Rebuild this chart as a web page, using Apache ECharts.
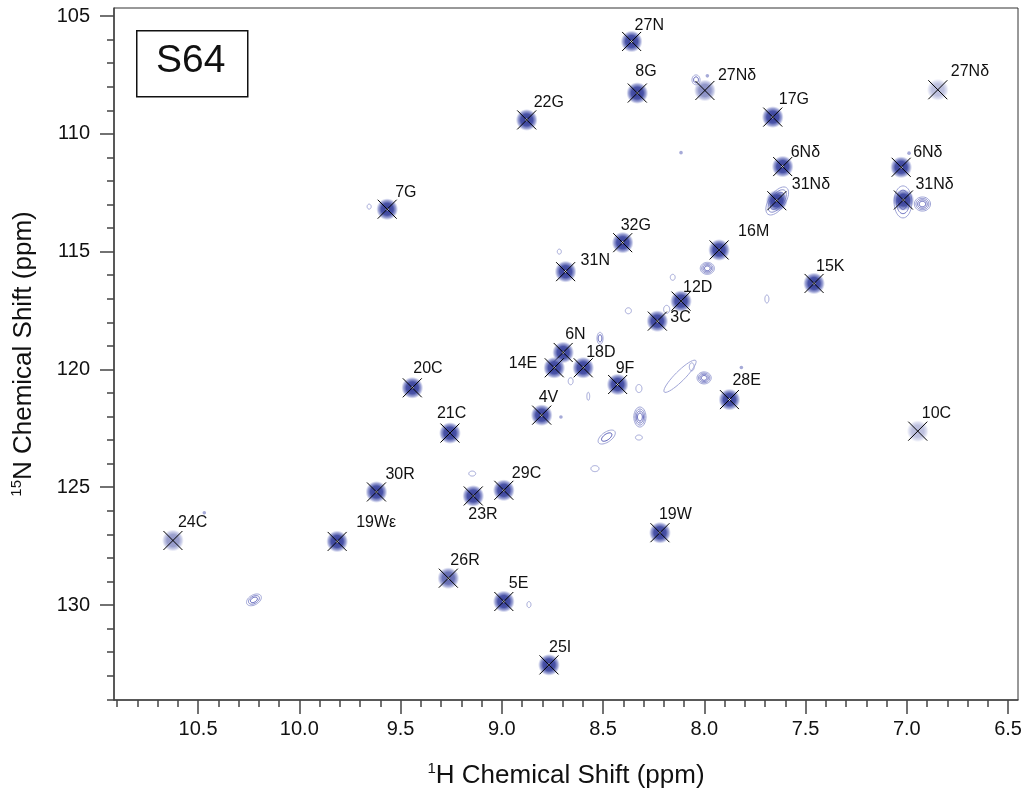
<!DOCTYPE html>
<html>
<head>
<meta charset="utf-8">
<title>S64 HSQC</title>
<script src="https://cdn.jsdelivr.net/npm/echarts@6/dist/echarts.min.js"></script>
<style>
  html, body { margin: 0; padding: 0; background: #fff; }
  #chart { width: 1027px; height: 795px; }
</style>
</head>
<body>
<div id="chart"></div>
<script>
// assigned peaks (1H ppm, 15N ppm)
var peakNames = ['27N','8G','27Nδ','22G','17G','27Nδ','6Nδ','6Nδ','31Nδ','31Nδ','32G','31N','16M','15K','12D','3C','6N','14E','18D','9F','28E','4V','10C','29C','19W','5E','25I','7G','20C','21C','30R','23R','24C','19Wε','26R'];
var peakH = [8.359,8.331,7.997,8.877,7.662,6.847,7.613,7.028,7.642,7.017,8.403,8.685,7.927,7.458,8.115,8.232,8.697,8.741,8.598,8.428,7.876,8.803,6.946,8.990,8.219,8.990,8.767,9.566,9.442,9.256,9.619,9.141,10.624,9.813,9.264];
var peakN = [106.08,108.27,108.16,109.41,109.29,108.13,111.39,111.42,112.84,112.81,114.62,115.85,114.93,116.35,117.10,117.95,119.28,119.93,119.93,120.64,121.28,121.94,122.62,125.13,126.93,129.85,132.54,113.20,120.78,122.70,125.20,125.37,127.26,127.30,128.86];
var peakLevel = [1,1,0.6,1,1,0.35,1,1,1,1,1,1,1,1,1,1,1,1,1,1,1,1,0.35,1,1,1,1,1,1,1,1,1,0.55,1,0.8];

// unassigned contour features (centre, half widths in ppm, tilt, ring count)
var contourH = [8.515,8.660,8.573,8.323,8.120,8.062,8.318,8.323,8.482,8.540,8.001,7.817,8.375,8.186,8.708,8.156,7.691,8.716,8.115,7.985,8.041,7.985,7.640,6.923,7.019,6.989,10.469,9.655,10.224,9.146,8.866];
var contourN = [118.68,120.50,121.14,120.81,120.29,119.89,122.02,122.89,122.87,124.21,120.36,119.92,117.51,117.45,122.02,116.09,117.01,115.00,110.80,115.71,107.71,107.54,112.85,112.98,112.89,110.82,126.08,113.09,129.78,124.42,129.98];
var contourRx = [0.015,0.012,0.007,0.015,0.110,0.012,0.030,0.017,0.049,0.020,0.035,0.007,0.015,0.015,0.007,0.012,0.010,0.010,0.007,0.035,0.020,0.007,0.080,0.040,0.044,0.007,0.007,0.010,0.040,0.017,0.010];
var contourRy = [0.255,0.150,0.170,0.170,0.210,0.170,0.425,0.106,0.210,0.127,0.255,0.064,0.127,0.170,0.064,0.127,0.170,0.106,0.064,0.255,0.210,0.064,0.340,0.300,0.680,0.064,0.064,0.106,0.210,0.106,0.127];
var contourTilt = [0,0,0,0,-45,0,0,0,-35,0,0,0,0,0,0,0,0,0,0,0,0,0,-55,0,0,0,0,0,-30,0,0];
var contourRings = [2,1,1,1,1,1,4,1,2,1,4,1,1,1,1,1,1,1,1,4,2,1,4,4,3,1,1,1,3,1,1];

// axis ticks
var majorH = [10.5,10.0,9.5,9.0,8.5,8.0,7.5,7.0,6.5];
var minorH = [10.9,10.8,10.7,10.6,10.5,10.4,10.3,10.2,10.1,10.0,9.9,9.8,9.7,9.6,9.5,9.4,9.3,9.2,9.1,9.0,8.9,8.8,8.7,8.6,8.5,8.4,8.3,8.2,8.1,8.0,7.9,7.8,7.7,7.6,7.5,7.4,7.3,7.2,7.1,7.0,6.9,6.8,6.7,6.6,6.5];
var majorN = [105,110,115,120,125,130];
var minorN = [105,106,107,108,109,110,111,112,113,114,115,116,117,118,119,120,121,122,123,124,125,126,127,128,129,130,131,132,133,134];

// label placement relative to the cross (px)
var labelOffset = [[3,-16],[-2,-21],[13,-15],[7,-17],[6,-17],[13,-18],[8,-14],[12,-15],[15,-16],[12,-15],[-2,-17],[15,-11],[19,-18],[2,-17],[2,-14],[13,-4],[2,-18],[-17,-4],[3,-15],[-2,-16],[3,-19],[-3,-18],[4,-18],[8,-17],[-1,-18],[5,-18],[0,-17],[8,-17],[1,-19],[-13,-19],[9,-17],[-5,19],[5,-18],[19,-19],[2,-18]];
var labelAlign = peakNames.map(function (n, i) { return i === 17 ? 'right' : 'left'; });

var FONT = '"Liberation Sans", Arial, Helvetica, sans-serif';

var peakData = peakNames.map(function (n, i) { return [peakH[i], peakN[i], peakLevel[i], i]; });
var contourData = contourH.map(function (h, i) {
  return [h, contourN[i], contourRx[i], contourRy[i], contourTilt[i], contourRings[i]];
});

function ellipsePoints(cx, cy, rx, ry, tilt) {
  var a = tilt * Math.PI / 180, pts = [];
  for (var k = 0; k < 40; k++) {
    var t = k / 40 * Math.PI * 2;
    var px = rx * Math.cos(t), py = ry * Math.sin(t);
    pts.push([cx + px * Math.cos(a) - py * Math.sin(a), cy + px * Math.sin(a) + py * Math.cos(a)]);
  }
  return pts;
}

function renderContour(params, api) {
  var c = api.coord([api.value(0), api.value(1)]);
  var s = api.size([api.value(2), api.value(3)]);
  var rx = Math.max(s[0], 1.2), ry = Math.max(s[1], 1.2);
  var tilt = api.value(4), rings = api.value(5);
  var children = [];
  if (rx < 2 && ry < 2) {
    children.push({ type: 'circle', shape: { cx: c[0], cy: c[1], r: 1.8 }, style: { fill: '#a6aad8' } });
  } else {
    for (var k = 0; k < rings; k++) {
      var f = 1 - k * 0.8 / rings;
      var shade = rings > 1 ? (k / (rings - 1)) : 0;
      var col = 'rgb(' + Math.round(160 - 80 * shade) + ',' + Math.round(165 - 80 * shade) + ',' + Math.round(215 - 35 * shade) + ')';
      children.push({
        type: 'polygon',
        shape: { points: ellipsePoints(c[0], c[1], rx * f, ry * f, tilt) },
        style: { fill: 'none', stroke: col, lineWidth: 1 }
      });
    }
  }
  return { type: 'group', children: children };
}

function renderPeak(params, api) {
  var c = api.coord([api.value(0), api.value(1)]);
  var lv = api.value(2), i = api.value(3);
  var r = 11;
  var grad = new echarts.graphic.RadialGradient(0.5, 0.5, 0.5, [
    { offset: 0, color: 'rgba(52,60,150,' + lv + ')' },
    { offset: 0.55, color: 'rgba(64,74,162,' + (lv * 0.95) + ')' },
    { offset: 0.8, color: 'rgba(100,110,188,' + (lv * 0.6) + ')' },
    { offset: 1, color: 'rgba(150,158,215,0)' }
  ]);
  var h = 9.5;
  var off = labelOffset[i];
  var children = [
    { type: 'circle', shape: { cx: c[0], cy: c[1], r: r }, style: { fill: grad } },
    { type: 'line', shape: { x1: c[0] - h, y1: c[1] - h, x2: c[0] + h, y2: c[1] + h }, style: { stroke: '#000', lineWidth: 1 } },
    { type: 'line', shape: { x1: c[0] - h, y1: c[1] + h, x2: c[0] + h, y2: c[1] - h }, style: { stroke: '#000', lineWidth: 1 } },
    {
      type: 'text',
      style: {
        text: peakNames[i], x: c[0] + off[0], y: c[1] + off[1],
        fill: '#111', fontSize: 16, fontFamily: FONT,
        align: labelAlign[i], verticalAlign: 'middle'
      }
    }
  ];
  if (lv >= 0.8) {
    children.splice(1, 0, { type: 'circle', shape: { cx: c[0], cy: c[1], r: 1.3 }, style: { fill: '#fff' } });
  }
  return { type: 'group', children: children };
}

var myChart = echarts.init(document.getElementById('chart'), null, { renderer: 'canvas' });

var tickStyle = { color: '#444', width: 1.5 };
var nameRich = {
  sup: { fontSize: 15, fontFamily: FONT, color: '#111', verticalAlign: 'top', lineHeight: 30 },
  n: { fontSize: 26, fontFamily: FONT, color: '#111', lineHeight: 30 }
};

var option = {
  animation: false,
  backgroundColor: '#fff',
  textStyle: { fontFamily: FONT },
  grid: {
    left: 114, right: 9, top: 8, bottom: 95,
    show: true, borderColor: '#333', borderWidth: 1, backgroundColor: 'transparent'
  },
  xAxis: [{
    type: 'value', inverse: true, min: 6.451, max: 10.915, position: 'bottom',
    name: '{sup|1}{n|H Chemical Shift (ppm)}', nameLocation: 'middle', nameGap: 61,
    nameTextStyle: { color: '#111', fontFamily: FONT, fontSize: 26, rich: nameRich },
    axisLine: { show: true, onZero: false, lineStyle: tickStyle },
    axisTick: { show: true, customValues: majorH, length: 14, lineStyle: tickStyle },
    axisLabel: {
      customValues: majorH, margin: 19, fontSize: 20, color: '#111', fontFamily: FONT,
      formatter: function (v) { return v.toFixed(1); }
    },
    splitLine: { show: false }
  }, {
    type: 'value', inverse: true, min: 6.451, max: 10.915, position: 'bottom',
    axisLine: { show: false },
    axisTick: { show: true, customValues: minorH, length: 7, lineStyle: tickStyle },
    axisLabel: { show: false },
    splitLine: { show: false }
  }],
  yAxis: [{
    type: 'value', inverse: true, min: 104.66, max: 134.03, position: 'left',
    name: '{sup|15}{n|N Chemical Shift (ppm)}', nameLocation: 'middle', nameGap: 75,
    nameTextStyle: { color: '#111', fontFamily: FONT, fontSize: 26, rich: nameRich },
    axisLine: { show: true, onZero: false, lineStyle: tickStyle },
    axisTick: { show: true, customValues: majorN, length: 14, lineStyle: tickStyle },
    axisLabel: { customValues: majorN, margin: 24, fontSize: 20, color: '#111', fontFamily: FONT },
    splitLine: { show: false }
  }, {
    type: 'value', inverse: true, min: 104.66, max: 134.03, position: 'left',
    axisLine: { show: false },
    axisTick: { show: true, customValues: minorN, length: 7, lineStyle: tickStyle },
    axisLabel: { show: false },
    splitLine: { show: false }
  }],
  graphic: [
    { type: 'rect', left: 136, top: 30, shape: { width: 111, height: 66 }, style: { fill: '#fff', stroke: '#111', lineWidth: 1.5 }, z: 10 },
    { type: 'text', left: 156, top: 42, style: { text: 'S64', fontSize: 39, fontFamily: FONT, fill: '#111' }, z: 11 }
  ],
  series: [{
    type: 'custom', name: 'contours', coordinateSystem: 'cartesian2d',
    xAxisIndex: 0, yAxisIndex: 0, renderItem: renderContour, data: contourData, clip: true, silent: true,
    encode: { x: 0, y: 1 }
  }, {
    type: 'custom', name: 'peaks', coordinateSystem: 'cartesian2d',
    xAxisIndex: 0, yAxisIndex: 0, renderItem: renderPeak, data: peakData, clip: false, silent: true,
    encode: { x: 0, y: 1 }
  }]
};

myChart.setOption(option);
</script>
</body>
</html>
